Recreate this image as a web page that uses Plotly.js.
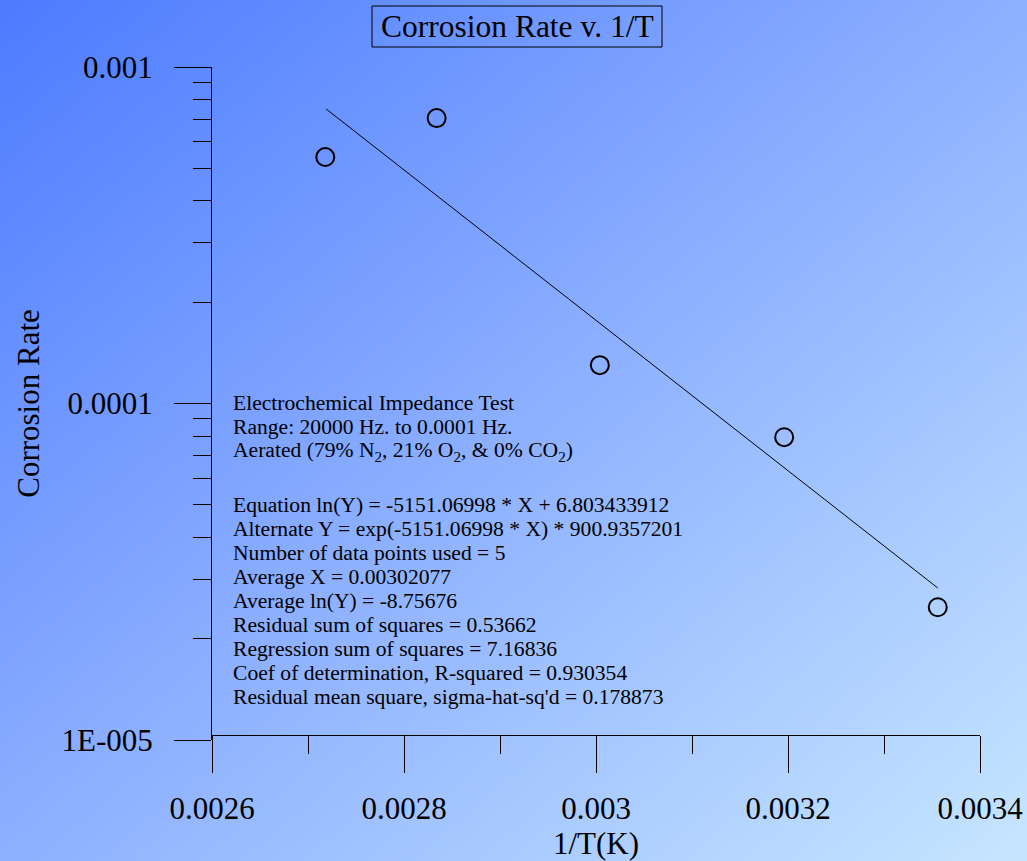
<!DOCTYPE html>
<html><head><meta charset="utf-8">
<script src="https://cdn.plot.ly/plotly-3.0.1.min.js"></script>
<style>
html,body{margin:0;padding:0;}
#chart{width:1027px;height:861px;background:linear-gradient(to bottom right,#4c7bff 0%,#8db0ff 50%,#c6e6ff 100%);}
</style>
</head><body><div id="chart"></div>
<script>
// Data
const invT = [0.002718, 0.002834, 0.003004, 0.003196, 0.003356];
const corrosionRate = [5.40e-4, 7.05e-4, 1.30e-4, 7.94e-5, 2.48e-5];
const fitX = [0.002719, 0.003356];
const fitY = [7.50e-4, 2.83e-5];

const xTickVals = [0.0026, 0.0028, 0.003, 0.0032, 0.0034];
const xTickText = ["0.0026", "0.0028", "0.003", "0.0032", "0.0034"];
const xMinorVals = [0.0027, 0.0029, 0.0031, 0.0033];
const yTickVals = [1e-5, 1e-4, 1e-3];
const yTickText = ["1E-005", "0.0001", "0.001"];
const yMinorVals = [2e-5,3e-5,4e-5,5e-5,6e-5,7e-5,8e-5,9e-5,2e-4,3e-4,4e-4,5e-4,6e-4,7e-4,8e-4,9e-4];

const headerLines = [
  "Electrochemical Impedance Test",
  "Range: 20000 Hz. to 0.0001 Hz.",
  "Aerated (79% N<sub>2</sub>, 21% O<sub>2</sub>, &amp; 0% CO<sub>2</sub>)"
];
const statLines = [
  "Equation ln(Y) = -5151.06998 * X + 6.803433912",
  "Alternate Y = exp(-5151.06998 * X) * 900.9357201",
  "Number of data points used = 5",
  "Average X = 0.00302077",
  "Average ln(Y) = -8.75676",
  "Residual sum of squares = 0.53662",
  "Regression sum of squares = 7.16836",
  "Coef of determination, R-squared = 0.930354",
  "Residual mean square, sigma-hat-sq'd = 0.178873"
];

const FONT = "Liberation Serif, Times New Roman, serif";
const plotTop = 67, plotBottom = 740, plotH = plotBottom - plotTop;
const pyFrac = px => (plotBottom - px) / plotH;
const pxFrac = px => (px - 212) / 768;

const annotations = [];
annotations.push({
  text: "Corrosion Rate v. 1/T", xref: "paper", yref: "paper",
  x: pxFrac(517), y: pyFrac(27), xanchor: "center", yanchor: "middle",
  showarrow: false, font: {family: FONT, size: 31.5, color: "black"}
});
headerLines.forEach((t, i) => {
  annotations.push({
    text: t, xref: "paper", yref: "paper", x: pxFrac(231), y: pyFrac(410 + 24 * i - 7),
    xanchor: "left", yanchor: "middle", showarrow: false, align: "left",
    font: {family: FONT, size: 21.6, color: "black"}
  });
});
statLines.forEach((t, i) => {
  annotations.push({
    text: t, xref: "paper", yref: "paper", x: pxFrac(231), y: pyFrac(512 + 24 * i - 7),
    xanchor: "left", yanchor: "middle", showarrow: false, align: "left",
    font: {family: FONT, size: 21.6, color: "black"}
  });
});

const shapes = [{
  type: "rect", xref: "paper", yref: "paper",
  x0: pxFrac(372), x1: pxFrac(662), y0: pyFrac(47), y1: pyFrac(6),
  line: {color: "black", width: 1}, fillcolor: "rgba(0,0,0,0)"
}];

const traces = [
  {x: fitX, y: fitY, type: "scatter", mode: "lines", line: {color: "black", width: 1}, hoverinfo: "skip"},
  {x: invT, y: corrosionRate, type: "scatter", mode: "markers",
   marker: {symbol: "circle-open", size: 18, color: "black", line: {color: "black", width: 2}}}
];

const layout = {
  width: 1027, height: 861,
  paper_bgcolor: "rgba(0,0,0,0)", plot_bgcolor: "rgba(0,0,0,0)",
  margin: {l: 212, r: 47, t: 67, b: 121, pad: 0},
  showlegend: false,
  font: {family: FONT, color: "black"},
  xaxis: {
    range: [0.0026, 0.0034], anchor: "free", position: 5 / plotH,
    showline: true, linecolor: "black", linewidth: 1, showgrid: false, zeroline: false,
    ticks: "outside", ticklen: 37, tickwidth: 1, tickcolor: "black",
    tickmode: "array", tickvals: xTickVals, ticktext: xTickText,
    tickfont: {family: FONT, size: 31, color: "black"}, ticklabelstandoff: 9,
    minor: {tickmode: "array", tickvals: xMinorVals, ticks: "outside", ticklen: 18, tickwidth: 1, tickcolor: "black", showgrid: false},
    title: {text: "1/T(K)", font: {family: FONT, size: 31, color: "black"}, standoff: 7},
    automargin: false
  },
  yaxis: {
    type: "log", range: [-5, -3],
    showline: true, linecolor: "black", linewidth: 1, showgrid: false, zeroline: false,
    ticks: "outside", ticklen: 37, tickwidth: 1, tickcolor: "black",
    tickmode: "array", tickvals: yTickVals, ticktext: yTickText,
    tickfont: {family: FONT, size: 31, color: "black"}, ticklabelstandoff: 15,
    minor: {tickmode: "array", tickvals: yMinorVals, ticks: "outside", ticklen: 18, tickwidth: 1, tickcolor: "black", showgrid: false},
    title: {text: "Corrosion Rate", font: {family: FONT, size: 31, color: "black"}, standoff: 12},
    automargin: false
  },
  shapes: shapes,
  annotations: annotations
};

Plotly.newPlot("chart", traces, layout, {displayModeBar: false, staticPlot: true});
</script>
</body></html>
